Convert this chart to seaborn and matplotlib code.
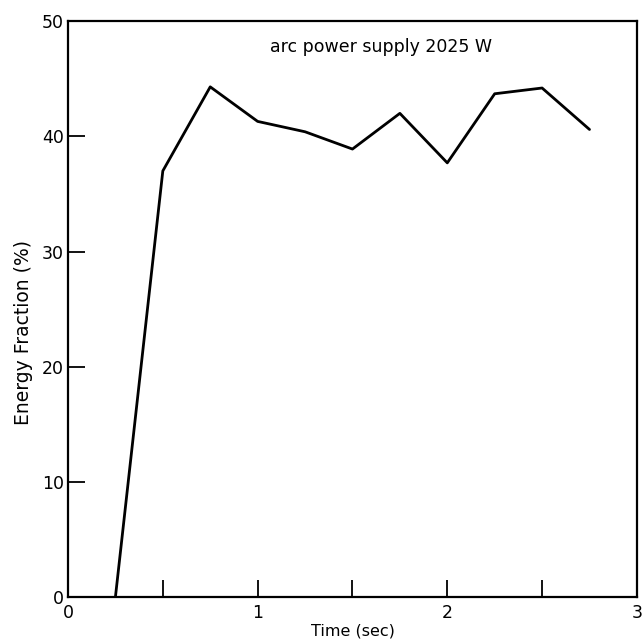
import matplotlib
matplotlib.use("Agg")
import matplotlib.pyplot as plt
import seaborn as sns
import pandas as pd
from matplotlib.ticker import MultipleLocator

time_sec = [0.25, 0.5, 0.75, 1.0, 1.25, 1.5, 1.75, 2.0, 2.25, 2.5, 2.75]
energy_fraction = [0.0, 37.0, 44.3, 41.3, 40.4, 38.9, 42.0, 37.7, 43.7, 44.2, 40.6]
x_ticks = [0, 1, 2, 3]
y_ticks = [0, 10, 20, 30, 40, 50]
annotation = "arc power supply 2025 W"

sns.set_theme(style="white")
plt.rcParams['font.family'] = ['DejaVu Sans']

df = pd.DataFrame({"t": time_sec, "e": energy_fraction})

fig = plt.figure(figsize=(6.44, 6.43), dpi=100)
ax = fig.add_axes([0.1056, 0.0715, 0.8834, 0.8955])
sns.lineplot(data=df, x="t", y="e", ax=ax, color="black", linewidth=2.0)

ax.set_xlim(0, 3)
ax.set_ylim(0, 50)
ax.set_xticks(x_ticks)
ax.set_xticklabels([str(v) for v in x_ticks])
ax.xaxis.set_minor_locator(MultipleLocator(0.5))
ax.set_yticks(y_ticks)
ax.set_yticklabels([str(v) for v in y_ticks])

ax.tick_params(axis="both", which="both", direction="in", length=12, width=1.3,
               color="black", labelcolor="black", bottom=True, left=True,
               top=False, right=False)
ax.tick_params(axis="both", which="major", labelsize=12.5)
ax.tick_params(axis="x", which="major", pad=5)
ax.tick_params(axis="y", which="major", pad=3)

for s in ax.spines.values():
    s.set_visible(True)
    s.set_color("black")
    s.set_linewidth(1.6)

ax.set_xlabel("Time (sec)", fontsize=11.5, color="black", labelpad=1)
ax.set_ylabel("Energy Fraction (%)", fontsize=13.5, color="black")
ax.yaxis.set_label_coords(-0.062, 0.46)

ax.text(1.65, 47.8, annotation, ha="center", va="center", fontsize=12.5, color="black")

fig.savefig("out.png", dpi=100, facecolor="white")
